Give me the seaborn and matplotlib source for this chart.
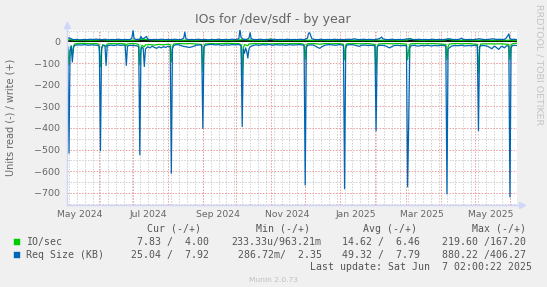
import pandas as pd
import matplotlib
matplotlib.use("Agg")
import matplotlib.pyplot as plt
from matplotlib.patches import Rectangle
import seaborn as sns

# ---------------- data (day offsets from start, values) ----------------
start = pd.Timestamp("2024-05-03 02:00")
end = pd.Timestamp("2025-06-07 02:00")

# Req Size (KB) - read (plotted negative)
req_read_days = [0, 1, 2, 3, 4, 5, 6, 7, 10, 13, 16, 19, 22, 25, 28, 29, 30, 31, 32, 34, 35, 36, 39, 42,
                 45, 48, 51, 52, 53, 54, 56, 59, 62, 64, 65, 66, 67, 68, 69, 70, 72, 74, 76, 78, 80, 82,
                 84, 86, 88, 90, 92, 93, 94, 95, 97, 100, 103, 106, 109, 112, 115, 118, 120, 121, 122,
                 123, 126, 129, 132, 135, 138, 141, 144, 147, 150, 153, 155, 156, 157, 158, 159, 160, 161,
                 162, 163, 165, 168, 171, 174, 177, 180, 183, 186, 189, 192, 195, 198, 201, 204, 207, 210,
                 211, 212, 213, 214, 217, 220, 223, 225, 227, 230, 233, 236, 239, 242, 245, 246, 247, 248,
                 249, 252, 255, 258, 260, 262, 265, 268, 271, 274, 275, 276, 277, 280, 283, 285, 287, 289,
                 291, 294, 297, 300, 302, 303, 304, 305, 306, 309, 312, 315, 318, 321, 324, 327, 330, 333,
                 336, 337, 338, 339, 340, 342, 345, 348, 351, 354, 357, 360, 363, 365, 366, 367, 368, 371,
                 374, 376, 378, 380, 381, 384, 386, 387, 389, 391, 393, 394, 395, 396, 398, 400]
req_read_vals = [18, 25, 517, 40, 22, 95, 30, 18, 16, 17, 15, 18, 16, 17, 18, 22, 505, 30, 20, 18, 111, 20,
                 17, 19, 16, 18, 17, 20, 111, 22, 18, 19, 20, 24, 524, 40, 28, 30, 116, 35, 25, 30, 22, 28,
                 32, 25, 30, 24, 28, 22, 25, 610, 35, 20, 15, 16, 22, 25, 28, 24, 18, 16, 18, 402, 25, 18,
                 15, 14, 16, 15, 18, 16, 17, 15, 16, 14, 20, 394, 35, 55, 30, 45, 77, 35, 25, 20, 16, 18,
                 15, 17, 14, 18, 15, 17, 16, 18, 15, 17, 16, 15, 17, 20, 664, 30, 18, 16, 18, 28, 32, 24,
                 17, 15, 16, 18, 15, 17, 20, 681, 30, 17, 15, 16, 20, 23, 18, 17, 19, 18, 20, 413, 25, 19,
                 18, 20, 25, 30, 24, 19, 18, 20, 19, 21, 672, 382, 30, 20, 18, 22, 19, 20, 18, 21, 19, 20,
                 18, 20, 22, 705, 35, 30, 22, 19, 20, 18, 21, 19, 20, 18, 21, 413, 25, 20, 19, 22, 28, 34,
                 22, 24, 37, 25, 22, 30, 20, 22, 719, 30, 20, 18, 19]

# Req Size (KB) - write
req_write_days = [0, 2, 4, 6, 9, 12, 15, 18, 21, 24, 26, 28, 31, 34, 37, 40, 43, 46, 49, 52, 55, 57, 58, 59,
                  60, 62, 65, 66, 67, 69, 71, 72, 75, 78, 81, 84, 87, 90, 93, 96, 99, 102, 104, 105, 106,
                  108, 111, 114, 117, 120, 123, 126, 129, 132, 135, 138, 141, 144, 147, 150, 153, 154, 155,
                  157, 160, 162, 163, 164, 166, 169, 172, 175, 178, 181, 184, 187, 190, 193, 196, 199, 202,
                  205, 208, 211, 214, 215, 216, 217, 218, 220, 223, 226, 229, 232, 235, 238, 241, 244, 247,
                  250, 253, 256, 258, 261, 264, 267, 270, 273, 276, 278, 280, 281, 283, 286, 289, 292, 295,
                  298, 301, 304, 307, 310, 313, 316, 319, 322, 325, 328, 331, 334, 337, 340, 343, 346, 349,
                  351, 352, 355, 358, 361, 364, 367, 370, 373, 376, 379, 382, 385, 388, 390, 392, 393, 394,
                  396, 398, 400]
req_write_vals = [10, 17, 12, 8, 9, 7, 9, 8, 10, 8, 11, 9, 8, 10, 7, 9, 8, 10, 8, 9, 8, 10, 18, 50, 12, 9, 10,
                  23, 12, 15, 23, 10, 8, 9, 8, 10, 8, 9, 8, 10, 8, 9, 15, 43, 12, 8, 9, 8, 10, 8, 9, 7, 9, 8,
                  10, 8, 9, 8, 10, 8, 12, 55, 18, 10, 9, 15, 40, 12, 9, 8, 10, 8, 9, 8, 10, 8, 9, 8, 10, 8,
                  9, 8, 10, 8, 15, 38, 40, 25, 12, 9, 8, 10, 8, 9, 8, 10, 8, 9, 8, 10, 9, 12, 9, 8, 10, 8,
                  9, 8, 10, 13, 20, 12, 9, 8, 10, 8, 9, 8, 10, 12, 9, 8, 10, 8, 9, 8, 10, 8, 9, 8, 10, 12, 9,
                  8, 10, 15, 10, 8, 9, 8, 10, 12, 9, 8, 10, 12, 9, 10, 8, 12, 25, 35, 12, 9, 10, 8]

# IO/sec - read (plotted negative)
io_read_days = [0, 1, 2, 3, 4, 5, 6, 7, 10, 14, 18, 22, 26, 28, 29, 30, 31, 32, 35, 36, 40, 44, 48, 52, 53,
                54, 58, 62, 64, 65, 66, 67, 69, 70, 74, 78, 82, 86, 90, 92, 93, 94, 95, 100, 105, 110, 115,
                120, 121, 122, 123, 128, 133, 138, 143, 148, 153, 155, 156, 157, 158, 160, 161, 162, 167,
                172, 177, 180, 184, 190, 196, 202, 208, 211, 212, 213, 214, 220, 225, 230, 236, 242, 246,
                247, 248, 249, 255, 262, 268, 274, 275, 276, 277, 283, 290, 296, 302, 303, 304, 305, 306,
                312, 318, 324, 330, 337, 338, 339, 340, 346, 352, 358, 365, 366, 367, 368, 374, 380, 386,
                393, 394, 395, 396, 400]
io_read_vals = [10, 40, 110, 45, 20, 65, 25, 12, 10, 9, 10, 11, 10, 12, 35, 116, 40, 15, 25, 12, 10, 11, 10,
                12, 20, 12, 10, 11, 15, 108, 30, 18, 25, 16, 15, 17, 14, 16, 13, 15, 95, 25, 12, 10, 11, 10,
                12, 14, 139, 30, 12, 10, 11, 10, 9, 10, 11, 15, 154, 30, 15, 18, 20, 12, 10, 11, 10, 12, 11,
                10, 11, 10, 10, 14, 85, 20, 11, 10, 13, 10, 11, 10, 13, 85, 20, 11, 10, 11, 10, 14, 147, 30,
                12, 10, 11, 10, 13, 85, 40, 15, 11, 10, 11, 10, 11, 14, 85, 25, 12, 10, 11, 10, 14, 147, 30,
                12, 11, 12, 11, 14, 85, 20, 11, 8]

# IO/sec - write
io_write_days = [0, 3, 7, 14, 21, 28, 31, 35, 42, 49, 56, 63, 66, 70, 75, 80, 87, 94, 101, 108, 115, 122,
                 129, 136, 143, 150, 157, 164, 171, 178, 181, 184, 191, 198, 205, 212, 219, 226, 233, 240,
                 247, 254, 261, 268, 275, 282, 289, 296, 303, 305, 308, 315, 322, 329, 336, 339, 343, 350,
                 357, 364, 371, 378, 385, 392, 396, 400]
io_write_vals = [6, 8, 5, 6, 5, 6, 8, 6, 5, 6, 5, 6, 10, 9, 7, 6, 5, 6, 5, 6, 5, 7, 5, 6, 5, 6, 8, 6, 5, 6,
                 12, 6, 5, 6, 5, 6, 5, 6, 5, 6, 7, 5, 6, 5, 6, 5, 6, 5, 6, 14, 8, 5, 6, 5, 6, 10, 6, 5, 6, 5,
                 6, 5, 6, 5, 6, 4]

title = "IOs for /dev/sdf - by year"
ylabel = "Units read (-) / write (+)"
legend_names = ["IO/sec", "Req Size (KB)"]
legend_headers = ["Cur (-/+)", "Min (-/+)", "Avg (-/+)", "Max (-/+)"]
legend_rows = [["7.83 /  4.00", "233.33u/963.21m", "14.62 /  6.46", "219.60 /167.20"],
               ["25.04 /  7.92", "286.72m/  2.35", "49.32 /  7.79", "880.22 /406.27"]]
last_update = "Last update: Sat Jun  7 02:00:22 2025"
footer = "Munin 2.0.73"
watermark = "RRDTOOL / TOBI OETIKER"
label_months = [(2024, 5), (2024, 7), (2024, 9), (2024, 11), (2025, 1), (2025, 3), (2025, 5)]

c_io = "#00CC00"
c_req = "#0066B3"

# ---------------- figure ----------------
W, H = 547, 287
fig = plt.figure(figsize=(W / 100, H / 100), dpi=100, facecolor="#f0f0f0")
L, R, T, B = 66.7, 516.7, 29.5, 204.5
ax = fig.add_axes([L / W, 1 - B / H, (R - L) / W, (B - T) / H])
ax.set_facecolor("white")


def to_dates(days):
    return start + pd.to_timedelta(days, unit="D")


font_c = "#666666"
grid_red = "#e99a9a"
grid_gray = "#cfcfcf"
dots = (0, (1.5, 1.5))

# grids
for d in pd.date_range(start, end, freq="W-SUN"):
    ax.axvline(d, color=grid_gray, lw=0.7, ls=dots, zorder=0.5)
for d in pd.date_range("2024-06-01", end, freq="MS"):
    ax.axvline(d, color=grid_red, lw=0.7, ls=dots, zorder=0.6)
ax.set_yticks(range(-700, 1, 100))
ax.set_yticks([v for v in range(-750, 51, 50) if v % 100], minor=True)
ax.yaxis.grid(True, which="major", color=grid_red, lw=0.7, ls=dots, zorder=0.6)
ax.yaxis.grid(True, which="minor", color=grid_gray, lw=0.7, ls=dots, zorder=0.5)
ax.set_axisbelow(True)

ax.axhline(0, color="black", lw=1.3, zorder=2)

sns.lineplot(x=to_dates(io_read_days), y=[-v for v in io_read_vals], color=c_io, lw=0.9, ax=ax, zorder=3)
sns.lineplot(x=to_dates(io_write_days), y=io_write_vals, color=c_io, lw=0.9, ax=ax, zorder=3)
sns.lineplot(x=to_dates(req_read_days), y=[-v for v in req_read_vals], color=c_req, lw=0.9, ax=ax, zorder=4)
sns.lineplot(x=to_dates(req_write_days), y=req_write_vals, color=c_req, lw=0.9, ax=ax, zorder=4)

ax.set_xlim(start, end)
ax.set_ylim(-754, 55)

label_dates = [pd.Timestamp(y, m, 15) for y, m in label_months]
ax.set_xticks(label_dates, labels=[d.strftime("%b %Y") for d in label_dates])
ax.tick_params(axis="x", length=0, pad=4, labelsize=6.7, labelcolor=font_c)
ax.tick_params(axis="y", which="both", length=0, pad=4.5, labelsize=6.8, labelcolor=font_c)
ax.set_xlabel("")
ax.set_ylabel("")

for s in ["top", "right"]:
    ax.spines[s].set_visible(False)
axis_c = "#CFD6F8"
for s in ["left", "bottom"]:
    ax.spines[s].set_color(axis_c)
    ax.spines[s].set_linewidth(1.0)
    ax.spines[s].set_zorder(5)
ax.plot([0, 0], [1, 1 + 4 / (B - T)], transform=ax.transAxes, color=axis_c, lw=1, clip_on=False)
ax.plot(0, 1 + 5 / (B - T), marker="^", ms=4.5, color=axis_c, transform=ax.transAxes, clip_on=False)
ax.plot([1, 1 + 3 / (R - L)], [0, 0], transform=ax.transAxes, color=axis_c, lw=1, clip_on=False)
ax.plot(1 + 5 / (R - L), 0, marker=">", ms=4.5, color=axis_c, transform=ax.transAxes, clip_on=False)

# texts
fig.text(273 / W, 1 - 20 / H, title, ha="center", va="center", fontsize=9, color=font_c)
fig.text(10.8 / W, 1 - 117 / H, ylabel, rotation=90, ha="center", va="center", fontsize=7, color=font_c)
fig.text(539 / W, 1 - 4 / H, watermark, rotation=270, ha="center", va="top", fontsize=6.8, color="#c4c4c4")

mono = "DejaVu Sans Mono"
lc = "#555555"
lfs = 7.1
head_x = [200.6, 309.5, 417.0, 526.2]
val_x = [209.4, 321.7, 420.4, 526.2]
for hx, htxt in zip(head_x, legend_headers):
    fig.text(hx / W, 1 - 228.7 / H, htxt, ha="right", va="center", family=mono, fontsize=lfs, color=lc)
row_y = [242.0, 254.9]
for name, col, ry, vals in zip(legend_names, [c_io, c_req], row_y, legend_rows):
    fig.add_artist(Rectangle((13.5 / W, 1 - (ry + 3) / H), 6 / W, 6 / H, transform=fig.transFigure,
                             facecolor=col, edgecolor=col, lw=0.3))
    fig.text(26.2 / W, 1 - ry / H, name, ha="left", va="center", family=mono, fontsize=lfs, color=lc)
    for vx, vt in zip(val_x, vals):
        fig.text(vx / W, 1 - ry / H, vt, ha="right", va="center", family=mono, fontsize=lfs, color=lc)
fig.text(532.1 / W, 1 - 267.1 / H, last_update, ha="right", va="center", family=mono, fontsize=lfs, color=lc)
fig.text(273 / W, 1 - 280.4 / H, footer, ha="center", va="center", fontsize=5.4, color="#c0c0c0")

fig.savefig("out.png", dpi=100, facecolor=fig.get_facecolor())
